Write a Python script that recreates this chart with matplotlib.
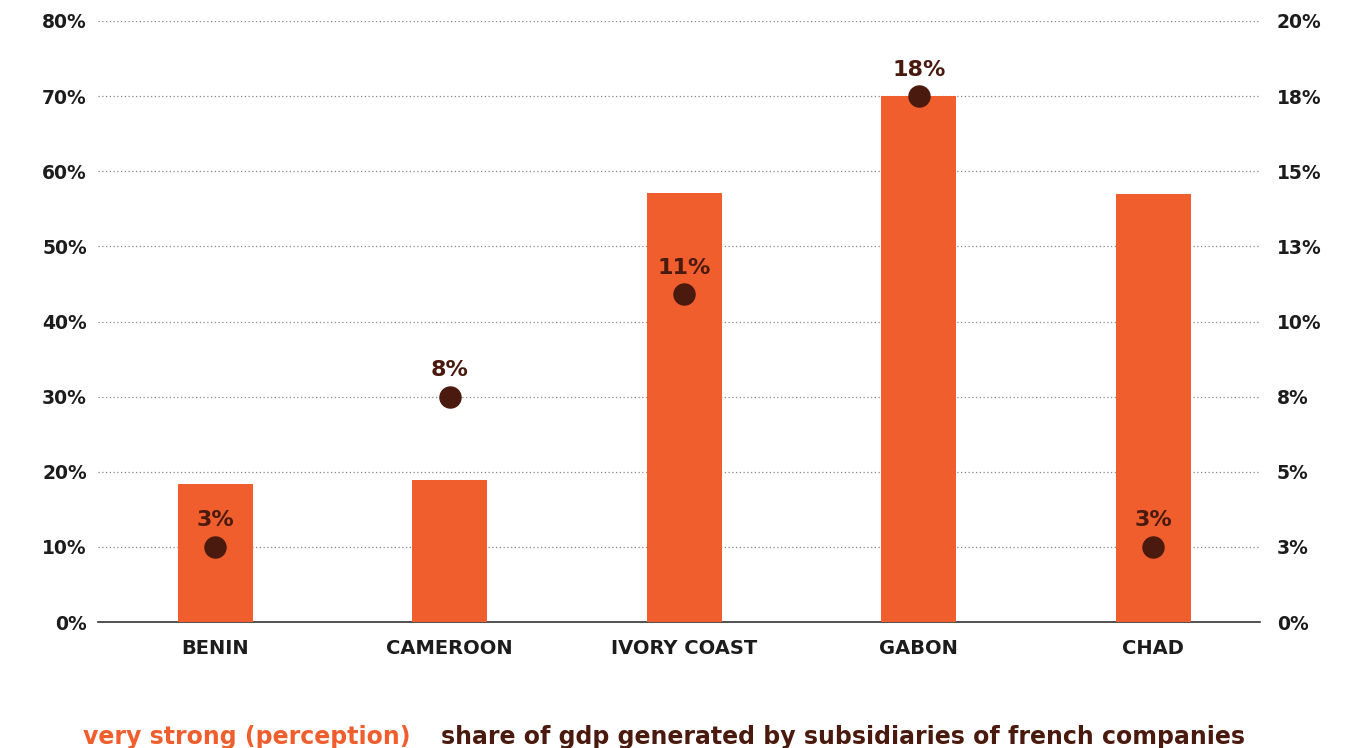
import numpy as np
import matplotlib.pyplot as plt
from matplotlib.ticker import FixedLocator

# data
countries = ['BENIN', 'CAMEROON', 'IVORY COAST', 'GABON', 'CHAD']
perception = [18.4, 18.9, 57.1, 70.0, 57.0]       # left axis, %
gdp_share = [2.5, 7.5, 10.9, 17.5, 2.5]           # right axis, %
gdp_labels = ['3%', '8%', '11%', '18%', '3%']
left_ticks = [0, 10, 20, 30, 40, 50, 60, 70, 80]
right_ticks = [0, 2.5, 5, 7.5, 10, 12.5, 15, 17.5, 20]
right_tick_labels = ['0%', '3%', '5%', '8%', '10%', '13%', '15%', '18%', '20%']

orange = '#F05E2E'
brown = '#4A1A0E'
dark = '#1c1c1c'

plt.rcParams['font.family'] = ['DejaVu Sans']

fig = plt.figure(figsize=(13.54, 7.48), dpi=100)
ax = fig.add_axes([98 / 1354, 1 - 622 / 748, (1260 - 98) / 1354, (622 - 21) / 748])
ax2 = ax.twinx()

x = np.arange(len(countries))
ax.bar(x, perception, width=0.32, color=orange, zorder=3)
ax.set_ylim(0, 80)
ax.set_xlim(-0.5, 4.455)
ax.set_yticks(left_ticks)
ax.set_yticklabels([f'{t}%' for t in left_ticks])
ax.grid(axis='y', linestyle=(0, (1, 2)), color='#888888', linewidth=0.9, zorder=0)
ax.set_axisbelow(True)

ax.set_xticks(x)
ax.set_xticklabels(countries)
ax.tick_params(axis='x', length=0, pad=12, labelsize=14, labelcolor=dark)
ax.tick_params(axis='y', length=0, pad=8, labelsize=13.5, labelcolor=dark)
for lbl in ax.get_xticklabels() + ax.get_yticklabels():
    lbl.set_fontweight('bold')

for s in ['top', 'left', 'right']:
    ax.spines[s].set_visible(False)
ax.spines['bottom'].set_color('#333333')
ax.spines['bottom'].set_linewidth(1.2)

ax2.set_ylim(0, 20)
ax2.yaxis.set_major_locator(FixedLocator(right_ticks))
ax2.set_yticklabels(right_tick_labels)
ax2.tick_params(axis='y', length=0, pad=12, labelsize=13.5, labelcolor=dark)
for lbl in ax2.get_yticklabels():
    lbl.set_fontweight('bold')
for s in ax2.spines.values():
    s.set_visible(False)

ax2.scatter(x, gdp_share, s=230, color=brown, zorder=5)
for xi, v, t in zip(x, gdp_share, gdp_labels):
    ax2.annotate(t, (xi, v), xytext=(0, 19), textcoords='offset points',
                 ha='center', va='center', fontsize=16, fontweight='bold', color=brown)

fig.text(83 / 1354, 1 - 737 / 748, 'very strong (perception)', color=orange,
         fontsize=17, fontweight='bold', va='center', ha='left')
fig.text(441 / 1354, 1 - 737 / 748, 'share of gdp generated by subsidiaries of french companies',
         color=brown, fontsize=17, fontweight='bold', va='center', ha='left')

fig.savefig('out.png', dpi=100)
